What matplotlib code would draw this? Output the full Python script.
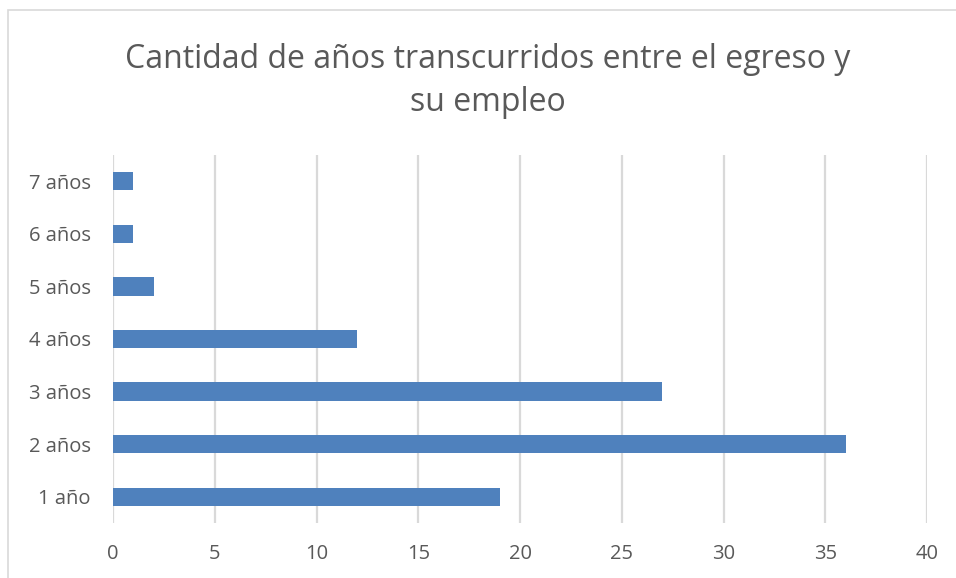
import matplotlib.pyplot as plt
from matplotlib.patches import Rectangle

categories = ["1 año", "2 años", "3 años", "4 años", "5 años", "6 años", "7 años"]
values = [19, 36, 27, 12, 2, 1, 1]
xticks = [0, 5, 10, 15, 20, 25, 30, 35, 40]
title = "Cantidad de años transcurridos entre el egreso y\nsu empleo"

W, H = 956, 578
fig = plt.figure(figsize=(W / 100, H / 100), dpi=100)
plt.rcParams['font.family'] = ['Open Sans', 'DejaVu Sans']

# outer chart border (Excel-style), extending past right/bottom edges
fig.patches.append(Rectangle((8 / W, -0.05), 1.2, (H - 10) / H + 0.05,
                             transform=fig.transFigure, fill=False,
                             edgecolor='#D9D9D9', linewidth=1.2))

ax = fig.add_axes([113 / W, 55 / H, (927 - 113) / W, (523 - 155) / H])
ypos = list(range(len(categories)))
ax.barh(ypos, values, height=0.35, color='#4F81BD', zorder=3)
ax.set_xlim(0, 40)
ax.set_ylim(-0.5, 6.5)
ax.set_xticks(xticks)
ax.set_yticks(ypos)
ax.set_yticklabels(categories)
ax.grid(axis='x', color='#D9D9D9', linewidth=1.6, zorder=0)
for s in ax.spines.values():
    s.set_visible(False)
ax.tick_params(axis='both', length=0, labelsize=14.5, colors='#595959')
ax.tick_params(axis='x', pad=15)
ax.tick_params(axis='y', pad=16)

fig.text(488 / W, 1 - 81 / H, title, ha='center', va='center',
         fontsize=23, color='#595959', linespacing=1.38)

fig.savefig('out.png', dpi=100)
